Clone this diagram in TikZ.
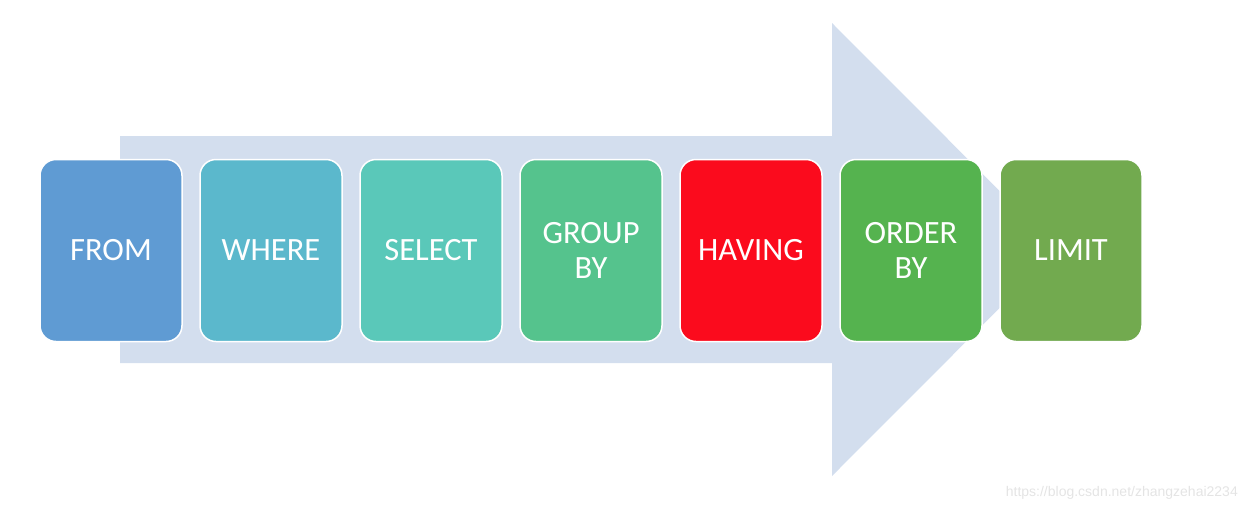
\documentclass[tikz,border=0pt]{standalone}
\usepackage{fontspec}
\setmainfont{Carlito}
\newfontfamily\wmfont{Liberation Sans}
\definecolor{arrowc}{HTML}{D3DEEE}
\definecolor{cfrom}{HTML}{5F9BD3}
\definecolor{cwhere}{HTML}{5BB8CC}
\definecolor{cselect}{HTML}{5AC8B9}
\definecolor{cgroup}{HTML}{55C38D}
\definecolor{chaving}{HTML}{FB0B1D}
\definecolor{corder}{HTML}{55B34F}
\definecolor{climit}{HTML}{72AA4F}
\definecolor{wmc}{HTML}{E4E4E4}
\tikzset{
  stepbox/.style={draw=white, line width=1.5pt, rounded corners=16pt,
    minimum width=142pt, minimum height=182pt, inner sep=0pt,
    text=white, align=center, font=\fontsize{32.5}{35}\selectfont},
}
\begin{document}
\begin{tikzpicture}[x=1pt,y=-1pt]
\useasboundingbox (0,0) rectangle (1248,512);
\fill[arrowc] (120,136) -- (832,136) -- (832,23) -- (1058,249.5) -- (832,476) -- (832,363) -- (120,363) -- cycle;
\node[stepbox, fill=cfrom]   (from)   at (111,250.5) {FROM};
\node[stepbox, fill=cwhere]  (where)  at (271,250.5) {WHERE};
\node[stepbox, fill=cselect] (select) at (431,250.5) {SELECT};
\node[stepbox, fill=cgroup]  (group)  at (591,250.5) {GROUP\\BY};
\node[stepbox, fill=chaving] (having) at (751,250.5) {HAVING};
\node[stepbox, fill=corder]  (order)  at (911,250.5) {ORDER\\BY};
\node[stepbox, fill=climit]  (limit)  at (1071,250.5) {LIMIT};
\node[anchor=east, text=wmc, font=\wmfont\fontsize{14}{16}\selectfont, inner sep=0pt] (wm) at (1238,493) {https://blog.csdn.net/zhangzehai2234};
\end{tikzpicture}
\end{document}
